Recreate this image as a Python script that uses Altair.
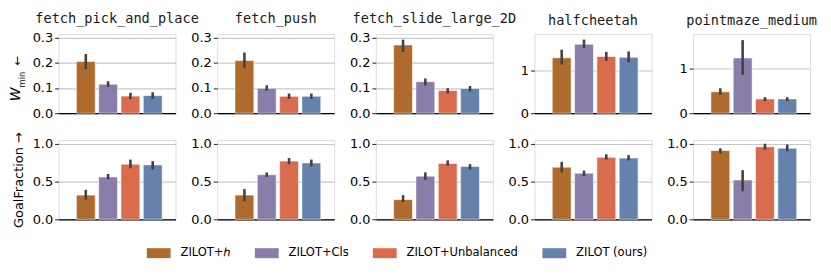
import altair as alt
import pandas as pd

methods = ["ZILOT+ℎ", "ZILOT+Cls", "ZILOT+Unbalanced", "ZILOT (ours)"]
colors = ["#AE6B2D", "#8A7DA9", "#D86C4D", "#6581AC"]
envs = ["fetch_pick_and_place", "fetch_push", "fetch_slide_large_2D", "halfcheetah", "pointmaze_medium"]

# W_min (lower is better): mean, lower and upper end of error bar, per method
wmin_mean = {
    "fetch_pick_and_place": [0.205, 0.115, 0.068, 0.070],
    "fetch_push": [0.209, 0.099, 0.067, 0.067],
    "fetch_slide_large_2D": [0.271, 0.125, 0.090, 0.098],
    "halfcheetah": [1.31, 1.63, 1.34, 1.32],
    "pointmaze_medium": [0.48, 1.24, 0.32, 0.32],
}
wmin_lo = {
    "fetch_pick_and_place": [0.175, 0.104, 0.056, 0.057],
    "fetch_push": [0.180, 0.089, 0.057, 0.057],
    "fetch_slide_large_2D": [0.243, 0.110, 0.078, 0.086],
    "halfcheetah": [1.15, 1.54, 1.24, 1.20],
    "pointmaze_medium": [0.41, 0.86, 0.27, 0.27],
}
wmin_hi = {
    "fetch_pick_and_place": [0.235, 0.127, 0.081, 0.083],
    "fetch_push": [0.241, 0.111, 0.078, 0.078],
    "fetch_slide_large_2D": [0.292, 0.138, 0.099, 0.108],
    "halfcheetah": [1.50, 1.74, 1.45, 1.46],
    "pointmaze_medium": [0.56, 1.64, 0.36, 0.36],
}

# GoalFraction (higher is better)
goal_mean = {
    "fetch_pick_and_place": [0.32, 0.56, 0.73, 0.72],
    "fetch_push": [0.32, 0.59, 0.77, 0.745],
    "fetch_slide_large_2D": [0.26, 0.57, 0.74, 0.70],
    "halfcheetah": [0.69, 0.61, 0.82, 0.81],
    "pointmaze_medium": [0.91, 0.52, 0.96, 0.94],
}
goal_lo = {
    "fetch_pick_and_place": [0.26, 0.53, 0.675, 0.66],
    "fetch_push": [0.24, 0.56, 0.73, 0.70],
    "fetch_slide_large_2D": [0.23, 0.52, 0.71, 0.66],
    "halfcheetah": [0.62, 0.57, 0.79, 0.78],
    "pointmaze_medium": [0.87, 0.37, 0.92, 0.90],
}
goal_hi = {
    "fetch_pick_and_place": [0.39, 0.60, 0.79, 0.77],
    "fetch_push": [0.40, 0.62, 0.81, 0.79],
    "fetch_slide_large_2D": [0.32, 0.62, 0.78, 0.73],
    "halfcheetah": [0.76, 0.645, 0.86, 0.85],
    "pointmaze_medium": [0.94, 0.65, 1.00, 0.99],
}

wmin_ymax = [0.315, 0.315, 0.315, 1.875, 1.78]
wmin_ticks = [[0, 0.1, 0.2, 0.3]] * 3 + [[0, 1], [0, 1]]
wmin_fmt = [".1f"] * 3 + ["d", "d"]
goal_ymax = [1.05] * 5
goal_ticks = [[0, 0.5, 1.0]] * 5
goal_fmt = [".1f"] * 5

wmin_title_parts = ["W", "min", "←"]
goal_title = "GoalFraction →"

rows = []
for metric, m, lo, hi in [("wmin", wmin_mean, wmin_lo, wmin_hi), ("goal", goal_mean, goal_lo, goal_hi)]:
    for env in envs:
        for i, meth in enumerate(methods):
            rows.append({"metric": metric, "env": env, "method": meth,
                         "mean": m[env][i], "lo": lo[env][i], "hi": hi[env][i]})
df = pd.DataFrame(rows)

SANS = "DejaVu Sans"
W, H = 118, 80


def panel(metric, j, ymax, ticks, fmt, top):
    sub = df[(df.metric == metric) & (df.env == envs[j])]
    base = alt.Chart(sub)
    xenc = alt.X("method:N", sort=methods,
                 scale=alt.Scale(paddingInner=0.155, paddingOuter=0.7, align=0.57),
                 axis=alt.Axis(labels=False, ticks=False, title=None, domain=True,
                               domainColor="black", domainWidth=1.3, grid=False))
    ytitle = None
    if metric == "goal" and j == 0:
        ytitle = goal_title
    yaxis = alt.Axis(values=ticks, format=fmt, title=ytitle, grid=True, gridColor="#c8c8c8",
                     gridWidth=1.1, domain=False, tickSize=4, tickColor="#222222",
                     labelPadding=2, labelFontSize=13, labelColor="black", labelFont=SANS,
                     labelOverlap=False, labelFlush=False,
                     titleFont=SANS, titleFontSize=13, titleFontWeight="normal",
                     titleColor="black", titlePadding=7)
    yscale = alt.Scale(domain=[0, ymax], nice=False, zero=True)
    bars = base.mark_bar(stroke="white", strokeWidth=1, strokeOpacity=0.55).encode(
        x=xenc, y=alt.Y("mean:Q", scale=yscale, axis=yaxis),
        color=alt.Color("method:N", sort=methods,
                        scale=alt.Scale(domain=methods, range=colors),
                        legend=alt.Legend(orient="none", legendX=89, legendY=209,
                                          direction="horizontal", title=None,
                                          symbolType="M-1,-0.42L1,-0.42L1,0.42L-1,0.42Z",
                                          symbolSize=576, symbolStrokeWidth=0,
                                          symbolOpacity=1,
                                          labelFont=SANS, labelFontSize=11.6,
                                          labelColor="black", labelOffset=10,
                                          columnPadding=24, padding=0)),
    )
    err = base.mark_rule(color="#424242", strokeWidth=2.6).encode(
        x=xenc, y=alt.Y("lo:Q", scale=yscale, axis=yaxis), y2="hi:Q")
    layers = [bars, err]
    if metric == "wmin" and j == 0:
        tdf = pd.DataFrame({"t": wmin_title_parts})
        layers.append(alt.Chart(tdf).transform_filter(alt.datum.t == wmin_title_parts[0]).mark_text(
            angle=270, font=SANS, fontSize=14, fontStyle="italic", color="black",
            align="center", baseline="middle").encode(
            x=alt.value(-43), y=alt.value(61), text="t:N"))
        layers.append(alt.Chart(tdf).transform_filter(alt.datum.t == wmin_title_parts[1]).mark_text(
            angle=270, font=SANS, fontSize=8.5, color="black",
            align="center", baseline="middle").encode(
            x=alt.value(-37), y=alt.value(46), text="t:N"))
        layers.append(alt.Chart(tdf).transform_filter(alt.datum.t == wmin_title_parts[2]).mark_text(
            angle=270, font=SANS, fontSize=12, color="black",
            align="center", baseline="middle").encode(
            x=alt.value(-42), y=alt.value(27), text="t:N"))
    ch = alt.layer(*layers).properties(width=W, height=H)
    if top:
        ch = ch.properties(title=alt.Title(envs[j], font="DejaVu Sans Mono", fontSize=13.7,
                                           fontWeight="normal", color="#1a1a1a",
                                           anchor="middle", offset=6))
    return ch


panels = [panel("wmin", j, wmin_ymax[j], wmin_ticks[j], wmin_fmt[j], True) for j in range(5)]
panels += [panel("goal", j, goal_ymax[j], goal_ticks[j], goal_fmt[j], False) for j in range(5)]

chart = alt.concat(*panels, columns=5, spacing={"row": 27, "column": 42}, bounds="flush").properties(
    padding={"left": 0, "top": 2, "right": 5, "bottom": 5}
).configure_view(stroke=None).configure(background="white")

chart.save("out.html", embed_options={"renderer": "svg", "actions": False})
